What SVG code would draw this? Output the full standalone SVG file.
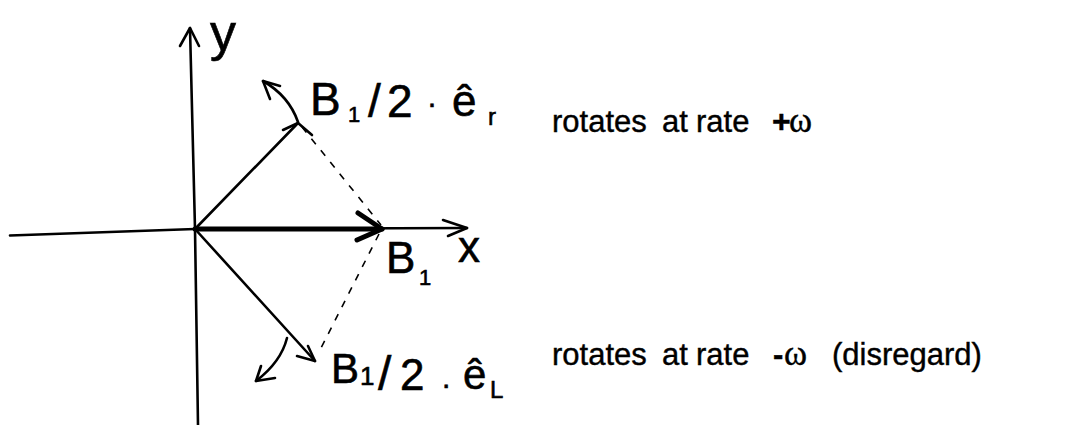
<svg xmlns="http://www.w3.org/2000/svg" width="1068" height="425" viewBox="0 0 1068 425">
<style>
.ink{fill:none;stroke:#000;stroke-width:2.6;stroke-linecap:round;stroke-linejoin:round}
.thick{fill:none;stroke:#000;stroke-width:5;stroke-linecap:round;stroke-linejoin:round}
.dash{fill:none;stroke:#000;stroke-width:1.6;stroke-dasharray:7 8}
.hand{font-family:"Liberation Sans","DejaVu Sans",sans-serif;fill:#000;stroke:#000;stroke-width:0.6}
.note{font-family:"Liberation Sans",Arial,sans-serif;font-size:31px;fill:#000;stroke:#000;stroke-width:0.4}
.omega{font-family:"Liberation Serif","DejaVu Serif",serif;font-size:35px}
</style>
<rect width="1068" height="425" fill="#fff"/>
<g id="axes">
<path class="ink" d="M10,235.5 Q100,232 195,229 L467,228"/>
<path class="ink" d="M443,220 L467,228 L448,236"/>
<path class="ink" d="M198,425 L195,229 L190,28"/>
<path class="ink" d="M180,46 L190,28 L199,46"/>
<text class="hand" x="210" y="50" font-size="52">y</text>
<text class="hand" x="458" y="262" font-size="44">x</text>
</g>
<g id="vector-B1">
<path class="thick" d="M195,229 L382,229"/>
<path class="thick" d="M358,213 L382,229 L357,240"/>
<text class="hand" font-size="44"><tspan x="386" y="273">B</tspan><tspan x="419" y="285" font-size="22">1</tspan></text>
</g>
<g id="vector-er">
<path class="ink" d="M195,229 L298,123"/>
<path class="ink" d="M283,130 L298,123 L312,135"/>
<text class="hand" font-size="46"><tspan x="310" y="115">B</tspan><tspan x="348" y="122" font-size="22">1</tspan><tspan x="368" y="117">/</tspan><tspan x="387" y="117">2</tspan><tspan x="427" y="113" font-size="30">·</tspan><tspan x="452" y="116" font-size="44">ê</tspan><tspan x="488" y="125" font-size="24">r</tspan></text>
</g>
<g id="vector-eL">
<path class="ink" d="M195,229 L315,361"/>
<path class="ink" d="M297,356 L315,361 L308,346"/>
<text class="hand" font-size="42"><tspan x="331" y="383">B</tspan><tspan x="360" y="385" font-size="26">1</tspan><tspan x="378" y="390" font-size="48">/</tspan><tspan x="400" y="390" font-size="44">2</tspan><tspan x="442" y="388" font-size="30">.</tspan><tspan x="463" y="389" font-size="42">ê</tspan><tspan x="490" y="398" font-size="24">L</tspan></text>
</g>
<g id="connectors">
<path class="dash" d="M302,127 L381,225"/>
<path class="dash" d="M379,234 L318,354"/>
<path class="ink" d="M298,122 Q289,96 263,81"/>
<path class="ink" d="M280,86 L263,81 L270,99"/>
<path class="ink" d="M287,338 Q281,362 256,381"/>
<path class="ink" d="M275,378 L256,381 L261,366"/>
</g>
<g id="note-plus">
<text class="note" y="132"><tspan x="552">rotates</tspan><tspan x="662">at</tspan><tspan x="696">rate</tspan><tspan x="772" font-weight="bold" font-size="32">+</tspan><tspan x="789" class="omega">ω</tspan></text>
</g>
<g id="note-minus">
<text class="note" y="365"><tspan x="552">rotates</tspan><tspan x="662">at</tspan><tspan x="696">rate</tspan><tspan x="773" font-weight="bold">-</tspan><tspan x="784" class="omega">ω</tspan><tspan x="832">(disregard)</tspan></text>
</g>
</svg>
